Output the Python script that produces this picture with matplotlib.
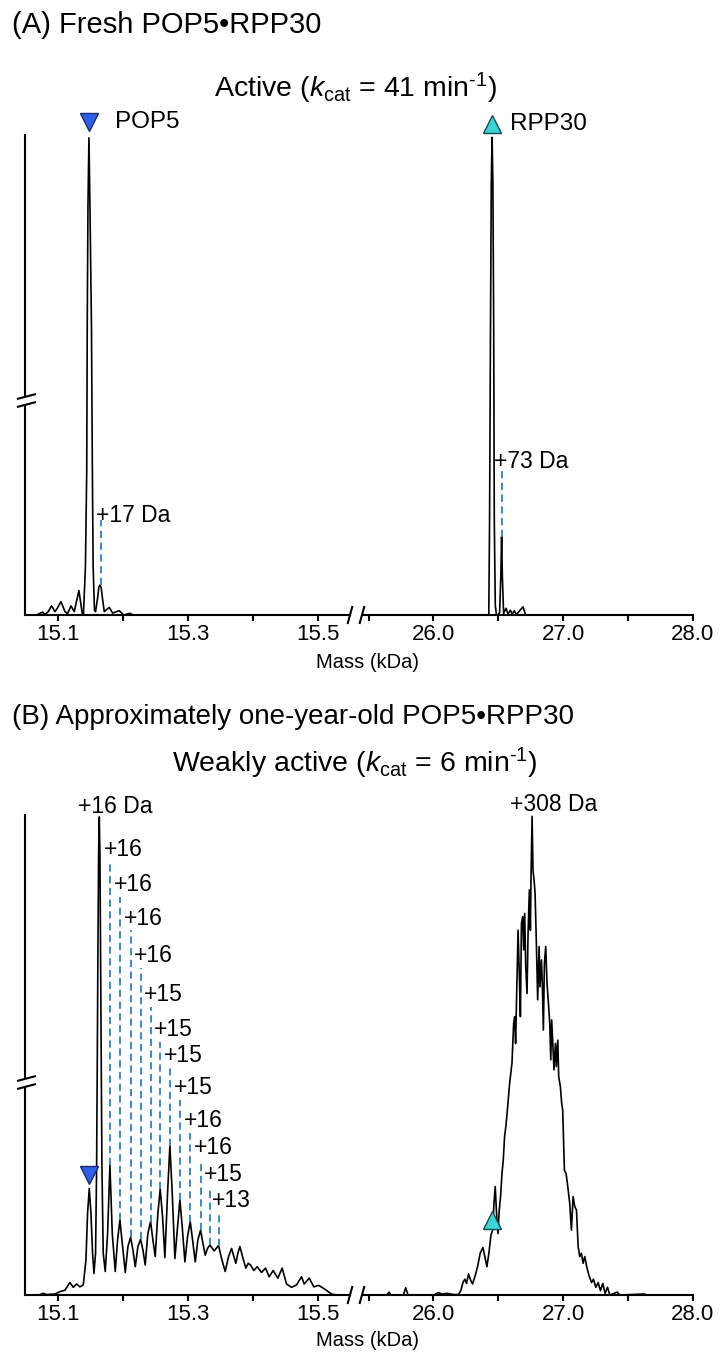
import matplotlib
matplotlib.use("Agg")
import matplotlib.pyplot as plt
from matplotlib.lines import Line2D
from matplotlib.transforms import IdentityTransform

plt.rcParams['font.family'] = ['Liberation Sans', 'DejaVu Sans']
plt.rcParams['mathtext.fontset'] = 'custom'
plt.rcParams['mathtext.rm'] = 'Liberation Sans'
plt.rcParams['mathtext.it'] = 'Liberation Sans:italic'

W, H = 721, 1353

# ---- (A) fresh sample, traced spectrum (mass kDa, relative intensity) ----
a_pop5_mass = [15.0667, 15.0718, 15.0759, 15.0795, 15.0846, 15.0897, 15.0949, 15.0985,
               15.1041, 15.1103, 15.1144, 15.1195, 15.1246, 15.1318, 15.1369, 15.1387,
               15.1418, 15.1438, 15.1446, 15.1457, 15.1472, 15.1488, 15.1511, 15.1525,
               15.1537, 15.1557, 15.1574, 15.1605, 15.1625, 15.1641, 15.1660, 15.1680,
               15.1708, 15.1785, 15.1836, 15.1938, 15.2010, 15.2103, 15.2154, 15.2220]
a_pop5_int = [0, 0.35, 0.6, 0.1, 0.7, 1.9, 0.7, 1.4,
              2.8, 0.7, 0.3, 1.9, 0.7, 5.1, 0.3, 0,
              10, 30, 60, 85, 99.4, 85, 60, 30,
              10, 1, 0.7, 3.5, 5.8, 6.25, 5.8, 3.5,
              0.7, 1.6, 0.4, 0.9, 0, 0.35, 0, 0]

a_rpp30_mass = [26.400, 26.4263, 26.4324, 26.4394, 26.4456, 26.4517, 26.4579, 26.4641,
                26.4687, 26.4764, 26.4880, 26.5097, 26.5190, 26.5251, 26.5310, 26.5405,
                26.5591, 26.5745, 26.5923, 26.6077, 26.6232, 26.6386, 26.6903, 26.7104,
                26.7500]
a_rpp30_int = [0, 0, 20, 60, 90, 99.5, 90, 60,
               20, 2, -0.5, 0.5, 8, 16.3, 8, 0.3,
               1.4, 0.2, 1.0, 0.2, 0.9, 0.1, 1.7, 0,
               0]

a_shift_mass = [15.1651, 26.5251]
a_shift_low = [6.25, 16.3]
a_shift_high = [19.8, 30.2]
a_shift_text = ['+17 Da', '+73 Da']
a_shift_text_mass = [15.158, 26.4687]
a_shift_text_int = [20.8, 31.9]

# ---- (B) one-year-old sample ----
b_pop5_mass = [15.0718, 15.0769, 15.0821, 15.0949, 15.1026, 15.1103, 15.1179, 15.1231,
               15.1282, 15.1333, 15.1385, 15.1426, 15.1451, 15.1477, 15.1503, 15.1528,
               15.1549, 15.1574, 15.1590, 15.1600, 15.1610, 15.1621, 15.1631, 15.1641,
               15.1651, 15.1662, 15.1672, 15.1692, 15.1723,
               15.1759, 15.1795, 15.1831, 15.1877, 15.1913, 15.1949, 15.1985, 15.2031,
               15.2072, 15.2113, 15.2149, 15.2185, 15.2226, 15.2267, 15.2303, 15.2338,
               15.2379, 15.2421, 15.2456, 15.2492, 15.2533, 15.2569, 15.2605, 15.2641,
               15.2682, 15.2718, 15.2754, 15.2795, 15.2836, 15.2872, 15.2908, 15.2949,
               15.2990, 15.3031, 15.3067, 15.3108, 15.3149, 15.3190, 15.3226, 15.3262,
               15.3297, 15.3333, 15.3400, 15.3467, 15.3513, 15.3569, 15.3621, 15.3667,
               15.3703, 15.3733, 15.3764, 15.3795, 15.3836, 15.3887, 15.3923, 15.3959,
               15.4010, 15.4062, 15.4128, 15.4190, 15.4246, 15.4308, 15.4379, 15.4446,
               15.4513, 15.4590, 15.4667, 15.4744, 15.4785, 15.4862, 15.4933, 15.5010,
               15.5103, 15.5205, 15.5282]
b_pop5_int = [0.1, 0.35, 0.1, 0.2, 0.7, 1.0, 2.6, 1.6,
              2.3, 1.7, 2.1, 7.3, 17.0, 22.2, 17.0, 8.7,
              4.5, 8.7, 26.7, 47.6, 71.2, 92.0, 99.6, 92.0,
              71.2, 47.6, 26.7, 8.7, 4.9,
              12.8, 27.1, 12.8, 4.9, 11.5, 15.6, 10.8, 4.7,
              10.1, 12.0, 9.4, 5.9, 10.1, 11.6, 9.4, 6.25,
              12.8, 15.3, 11.5, 8.0, 17.0, 22.1, 16.3, 7.8,
              21.2, 31.1, 21.2, 7.6, 14.2, 19.8, 14.2, 6.9,
              12.2, 15.3, 11.5, 6.9, 11.5, 13.5, 10.8, 8.3,
              9.7, 10.4, 9.2, 10.3, 7.6, 4.9, 8.0, 9.7,
              8.0, 6.6, 8.7, 10.1, 8.0, 5.6, 6.6, 6.25,
              5.1, 5.9, 4.7, 5.6, 3.8, 5.1, 3.5, 5.6,
              2.3, 1.6, 2.1, 3.8, 2.3, 3.5, 1.7, 2.0,
              1.2, 0.2, 0]

b_rpp30_mass = [25.537, 25.640, 25.658, 25.673, 25.768, 25.786, 25.804, 26.000,
                26.039, 26.064, 26.103, 26.154, 26.193, 26.211, 26.227, 26.242,
                26.255, 26.270, 26.286, 26.301, 26.319, 26.340, 26.360, 26.381,
                26.396, 26.412, 26.427, 26.443, 26.456, 26.466, 26.476, 26.486,
                26.497, 26.507, 26.517, 26.528, 26.538, 26.548, 26.559,
                26.5717, 26.587, 26.605, 26.618, 26.626, 26.633, 26.644, 26.652,
                26.662, 26.670, 26.678, 26.688, 26.695, 26.703, 26.711, 26.721,
                26.729, 26.739, 26.747, 26.752, 26.760, 26.767, 26.775, 26.783,
                26.793, 26.803, 26.814, 26.821, 26.832, 26.839, 26.847, 26.855,
                26.865, 26.875, 26.886, 26.896, 26.904, 26.911, 26.922, 26.929,
                26.940, 26.947, 26.958, 26.965, 26.978, 26.988, 26.996,
                27.009, 27.022, 27.035, 27.050, 27.063, 27.076,
                27.089, 27.102, 27.115, 27.127, 27.140, 27.153, 27.166, 27.181,
                27.199, 27.218, 27.233, 27.251, 27.269, 27.287, 27.305, 27.323,
                27.341, 27.359, 27.416, 27.436, 27.622, 27.647]
b_rpp30_int = [0, 0, 0.6, 0, 0, 1.5, 0, 0,
               0.5, 0.2, 0.35, 0.1, 0.1, 0.9, 2.6, 3.3,
               2.4, 4.4, 3.1, 2.3, 3.8, 5.9, 8.7, 9.9,
               8.0, 5.9, 8.7, 12.5, 13.5, 19.1, 22.6, 17.0,
               12.8, 17.7, 20.5, 25.3, 28.1, 33.0, 35.4,
               39.2, 44.1, 48.3, 56.6, 58.0, 52.4, 66.3, 76.0,
               66.3, 58.0, 77.4, 78.8, 71.9, 79.5, 68.4, 62.8,
               75.3, 84.4, 76.0, 87.2, 99.7, 88.5, 86.5, 83.7,
               73.3, 61.5, 72.6, 64.2, 69.8, 64.9, 55.2, 69.1,
               72.6, 64.9, 60.8, 56.6, 49.0, 57.3, 51.0, 46.9,
               52.4, 47.6, 53.1, 45.5, 43.4, 39.9, 38.5,
               26.0, 25.3, 22.6, 19.1, 13.5, 20.5,
               18.4, 17.7, 10.1, 8.0, 8.7, 6.6, 8.0, 5.9,
               4.0, 2.6, 3.3, 1.6, 2.6, 0.9, 2.4, 0.3,
               1.6, 0, 0.6, 0, 0.2, 0]

b_shift_mass = [15.1795, 15.1949, 15.2113, 15.2267, 15.2421, 15.2569,
                15.2718, 15.2872, 15.3031, 15.3190, 15.3333, 15.3467]
b_shift_low = [27.1, 15.6, 12.0, 11.6, 15.3, 22.1, 31.1, 19.8, 15.3, 13.5, 10.4, 10.3]
b_shift_high = [90.2, 82.9, 76.0, 68.1, 60.0, 52.7, 47.3, 40.6, 33.75, 28.1, 22.5, 17.1]
b_shift_text = ['+16', '+16', '+16', '+16', '+15', '+15',
                '+15', '+15', '+16', '+16', '+15', '+13']

b_top_text = ['+16 Da', '+308 Da']
b_top_text_mass = [15.1303, 26.592]
b_top_text_int = [101.7, 102.1]

# triangle markers: POP5 (blue, down) and RPP30 (cyan, up)
marker_mass = [15.148, 26.453]
a_marker_int = [102.7, 102.3]
b_marker_int = [25.0, 15.6]
marker_names = ['POP5', 'RPP30']
marker_name_mass = [15.1872, 26.592]

BLUE = '#2f5fe6'
CYAN = '#3ad6d6'
DASH = '#2a7fd4'

left_ticks = [15.1, 15.2, 15.3, 15.4, 15.5]
left_labels = ['15.1', '', '15.3', '', '15.5']
right_ticks = [25.5, 26.0, 26.5, 27.0, 27.5, 28.0]
right_labels = ['', '26.0', '', '27.0', '', '28.0']


def px_line(fig, x0, y0, x1, y1, color='black', lw=1.5):
    """Draw a line in image pixel coordinates (y down)."""
    fig.add_artist(Line2D([x0, x1], [H - y0, H - y1], color=color, lw=lw,
                          transform=IdentityTransform(), solid_capstyle='butt'))


def style_axes(axl, axr):
    for ax in (axl, axr):
        ax.set_ylim(0, 100)
        ax.spines['top'].set_visible(False)
        ax.spines['right'].set_visible(False)
        ax.spines['bottom'].set_linewidth(1.5)
        ax.spines['left'].set_linewidth(1.5)
        ax.set_yticks([])
        ax.tick_params(axis='x', direction='out', length=4, width=1.5,
                       labelsize=16, pad=2.5)
        ax.patch.set_alpha(0)
    axr.spines['left'].set_visible(False)
    axl.set_xlim(15.0488, 15.549)
    axr.set_xlim(25.457, 28.0)
    axl.set_xticks(left_ticks)
    axl.set_xticklabels(left_labels)
    axr.set_xticks(right_ticks)
    axr.set_xticklabels(right_labels)


def breaks(fig, base_y, ybreak):
    for x in (350, 362):
        px_line(fig, x - 2.5, base_y + 9, x + 2.5, base_y - 9)
    px_line(fig, 25, ybreak - 3, 25, ybreak + 4, color='white', lw=4)
    px_line(fig, 17, ybreak - 1, 36, ybreak - 6)
    px_line(fig, 17, ybreak + 7, 36, ybreak + 2)


def add_markers(axl, axr, ints, names):
    axl.plot([marker_mass[0]], [ints[0]], marker='v', ms=13.5, color=BLUE,
             mec='#1b2b6e', mew=1, ls='none', clip_on=False)
    axr.plot([marker_mass[1]], [ints[1]], marker='^', ms=13.5, color=CYAN,
             mec='#1d4a4a', mew=1, ls='none', clip_on=False)
    if names:
        axl.text(marker_name_mass[0], ints[0], marker_names[0], fontsize=17.5,
                 va='center', ha='left')
        axr.text(marker_name_mass[1], ints[1], marker_names[1], fontsize=17.5,
                 va='center', ha='left')


fig = plt.figure(figsize=(W / 100, H / 100), dpi=100)

# panel A
bA = 1 - 615 / H
axl = fig.add_axes([25 / W, bA, 325 / W, 480 / H])
axr = fig.add_axes([363 / W, bA, 330 / W, 480 / H])
style_axes(axl, axr)
axl.plot(a_pop5_mass, a_pop5_int, color='black', lw=1.2)
axr.plot(a_rpp30_mass, a_rpp30_int, color='black', lw=1.2)
for ax, m, lo, hi, t, tm, ti in zip((axl, axr), a_shift_mass, a_shift_low, a_shift_high,
                                   a_shift_text, a_shift_text_mass, a_shift_text_int):
    ax.plot([m, m], [lo, hi], color=DASH, lw=1.3, ls=(0, (4, 2.5)))
    ax.text(tm, ti, t, fontsize=16.5, va='center', ha='left')
add_markers(axl, axr, a_marker_int, True)
breaks(fig, 615, 400)

# panel B
bB = 1 - 1295 / H
bxl = fig.add_axes([25 / W, bB, 325 / W, 480 / H])
bxr = fig.add_axes([363 / W, bB, 330 / W, 480 / H])
style_axes(bxl, bxr)
bxl.plot(b_pop5_mass, b_pop5_int, color='black', lw=1.2)
bxr.plot(b_rpp30_mass, b_rpp30_int, color='black', lw=1.2)
for m, lo, hi, t in zip(b_shift_mass, b_shift_low, b_shift_high, b_shift_text):
    bxl.plot([m, m], [lo, hi], color=DASH, lw=1.3, ls=(0, (4, 2.5)))
    bxl.annotate(t, (m, hi), xytext=(-4.5, 0.5), textcoords='offset points',
                 fontsize=16.5, ha='left', va='bottom', annotation_clip=False)
bxl.text(b_top_text_mass[0], b_top_text_int[0], b_top_text[0], fontsize=16.5,
         va='center', ha='left', clip_on=False)
bxr.text(b_top_text_mass[1], b_top_text_int[1], b_top_text[1], fontsize=16.5,
         va='center', ha='left', clip_on=False)
add_markers(bxl, bxr, b_marker_int, False)
breaks(fig, 1295, 1082)

# titles and axis labels
fig.text(12 / W, 1 - 25 / H, '(A) Fresh POP5\u2022RPP30', fontsize=21,
         ha='left', va='center')
fig.text(355.5 / W, 1 - 88 / H, r'Active ($k_{\rm cat}$ = 41 min$^{\text{-1}}$)',
         fontsize=20.5, ha='center', va='center')
fig.text(12 / W, 1 - 717 / H, '(B) Approximately one-year-old POP5\u2022RPP30',
         fontsize=20, ha='left', va='center')
fig.text(355 / W, 1 - 763 / H, r'Weakly active ($k_{\rm cat}$ = 6 min$^{\text{-1}}$)',
         fontsize=20.5, ha='center', va='center')
fig.text(368 / W, 1 - 662 / H, 'Mass (kDa)', fontsize=14.5, ha='center', va='center')
fig.text(368 / W, 1 - 1341 / H, 'Mass (kDa)', fontsize=14.5, ha='center', va='center')

fig.savefig('out.png', dpi=100)
